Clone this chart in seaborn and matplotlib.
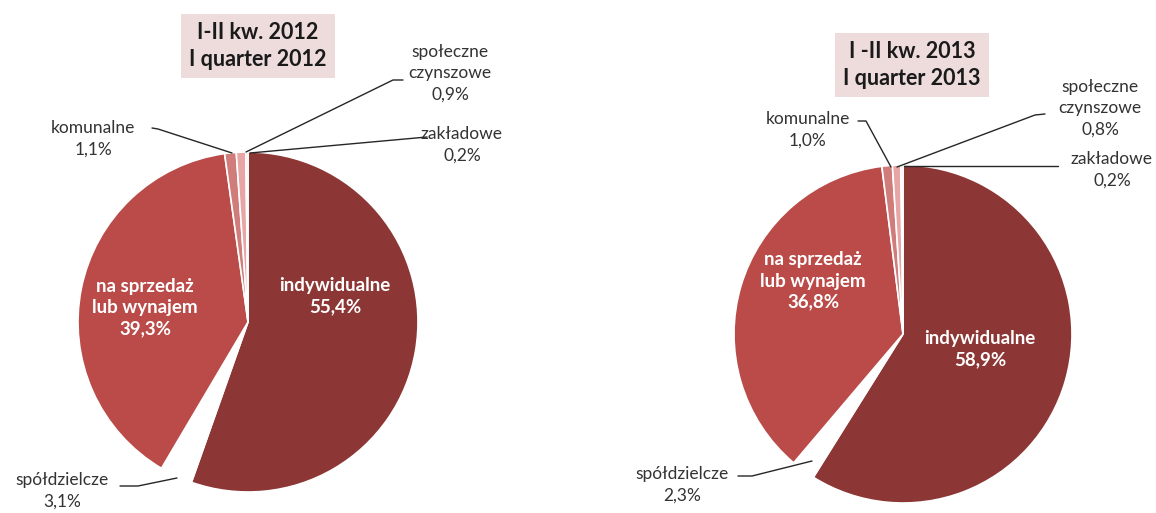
import matplotlib
matplotlib.use("Agg")
import matplotlib.pyplot as plt
import seaborn as sns

sns.set_theme(style="white")
plt.rcParams['font.family'] = ['Lato', 'DejaVu Sans']

# ---- data ----
categories = ["indywidualne", "spółdzielcze", "na sprzedaż\nlub wynajem",
              "komunalne", "społeczne\nczynszowe", "zakładowe"]
values_2012 = [55.4, 3.1, 39.3, 1.1, 0.9, 0.2]
values_2013 = [58.9, 2.3, 36.8, 1.0, 0.8, 0.2]
titles = ["I-II kw. 2012\nI quarter 2012", "I -II kw. 2013\nI quarter 2013"]

colors = ["#8C3735", "#FFFFFF", "#BA4B49", "#D07C7A", "#E7A6A5", "#F2CCCC"]

W, H = 1156, 513
fig = plt.figure(figsize=(W / 100, H / 100), dpi=100)
ax = fig.add_axes([0, 0, 1, 1])
ax.set_xlim(0, W)
ax.set_ylim(0, H)
ax.axis("off")


def P(x, y):
    return (x, H - y)


def fmt(v):
    return f"{v:.1f}".replace(".", ",") + "%"


# layout per pie: center, radius, title pos, label positions and leader lines
layouts = [
    dict(center=(248, 322), r=170, title=(258, 46),
         inside={0: (335, 296), 2: (145, 308)},
         outside={1: (62, 491), 3: (93, 139), 4: (450, 73), 5: (462, 145)},
         lines={1: [(120, 486), (138, 486), (177, 478)],
                3: [(152, 128), (158, 129), (232, 153)],
                4: [(246, 152), (393, 80), (403, 80)],
                5: [(250, 153), (427, 137)]}),
    dict(center=(903, 334), r=169, title=(912, 65),
         inside={0: (980, 349), 2: (813, 281)},
         outside={1: (682, 485), 3: (808, 130), 4: (1100, 108), 5: (1112, 170)},
         lines={1: [(738, 476), (752, 476), (812, 461)],
                3: [(858, 121), (866, 121), (891, 167)],
                4: [(897, 167), (1035, 115), (1045, 114)],
                5: [(904, 166), (1058, 166)]}),
]

for vals, title, lay in zip([values_2012, values_2013], titles, layouts):
    ax.pie(vals, colors=colors, startangle=90, counterclock=False,
           center=P(*lay["center"]), radius=lay["r"],
           wedgeprops=dict(edgecolor="white", linewidth=1.2))
    tx, ty = P(*lay["title"])
    ax.text(tx, ty, title, ha="center", va="center", fontsize=15.5,
            fontweight="bold", color="#1a1a1a", linespacing=1.3,
            bbox=dict(boxstyle="square,pad=0.4", facecolor="#EEDCDC",
                      edgecolor="none"))
    for i, (x, y) in lay["inside"].items():
        ax.text(*P(x, y), f"{categories[i]}\n{fmt(vals[i])}", ha="center",
                va="center", fontsize=13.5, fontweight="bold", color="white",
                linespacing=1.3)
    for i, (x, y) in lay["outside"].items():
        ax.text(*P(x, y), f"{categories[i]}\n{fmt(vals[i])}", ha="center",
                va="center", fontsize=12.5, color="#333333", linespacing=1.4)
    for i, pts in lay["lines"].items():
        xs = [p[0] for p in pts]
        ys = [H - p[1] for p in pts]
        ax.plot(xs, ys, color="#262626", linewidth=1.0)

ax.set_aspect("equal")
ax.set_xlim(0, W)
ax.set_ylim(0, H)
fig.savefig("out.png", dpi=100)
